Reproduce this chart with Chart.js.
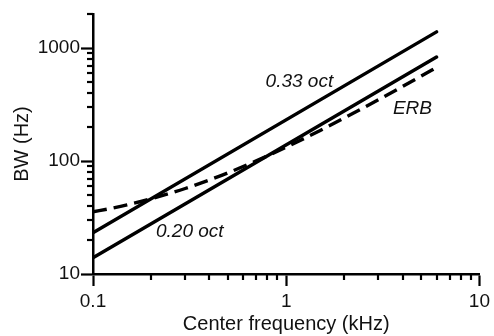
<!DOCTYPE html>
<html>
<head>
<meta charset="utf-8">
<script src="https://cdn.jsdelivr.net/npm/chart.js@4.4.1/dist/chart.umd.min.js"></script>
<style>
html, body { margin: 0; padding: 0; background: #fff; }
</style>
</head>
<body>
<canvas id="bwChart" width="494" height="336"></canvas>
<script>
// center frequency (kHz) vs bandwidth (Hz)
const octFreq = [0.1, 6];
const oct033 = [23.2, 1390];
const oct020 = [13.9, 832];

const erbFreq = [0.1, 0.125, 0.15, 0.2, 0.25, 0.3, 0.4, 0.5, 0.7, 1, 1.5, 2, 3, 4, 5, 6];
const erbBW = [35.5, 38.2, 40.9, 46.3, 51.7, 57.1, 67.9, 78.7, 100.3, 132.6, 186.6, 240.6, 348.5, 456.5, 564.4, 672.4];

// axis ticks; only the decades get a label and a long tick
const xTicks = [0.1, 0.2, 0.3, 0.4, 0.5, 0.6, 0.7, 0.8, 0.9, 1, 2, 3, 4, 5, 6, 7, 8, 9, 10];
const xLabels = [0.1, 1, 10];
const yTicks = [10, 20, 30, 40, 50, 60, 70, 80, 90, 100, 200, 300, 400, 500, 600, 700, 800, 900, 1000, 2000];
const yLabels = [10, 100, 1000];

const noteText = ['0.33 oct', 'ERB', '0.20 oct'];
const noteX = [1.17, 4.5, 0.317];
const noteY = [500, 292, 23.5];

const FONT = "'Liberation Sans', Arial, sans-serif";
const INK = '#111';

const toPts = (xs, ys) => xs.map((x, i) => ({ x: x, y: ys[i] }));

// short ticks between decades + italic curve names
const extras = {
  id: 'extras',
  afterDraw(chart) {
    const ctx = chart.ctx;
    const xs = chart.scales.x, ys = chart.scales.y;
    const area = chart.chartArea;
    ctx.save();
    ctx.strokeStyle = '#000';
    ctx.lineWidth = 2.2;
    xTicks.filter(v => !xLabels.includes(v)).forEach(v => {
      const px = Math.round(xs.getPixelForValue(v));
      ctx.beginPath();
      ctx.moveTo(px, area.bottom);
      ctx.lineTo(px, area.bottom + 6);
      ctx.stroke();
    });
    yTicks.filter(v => !yLabels.includes(v)).forEach(v => {
      const py = Math.round(ys.getPixelForValue(v));
      ctx.beginPath();
      ctx.moveTo(area.left, py);
      ctx.lineTo(area.left - 6, py);
      ctx.stroke();
    });
    ctx.fillStyle = INK;
    ctx.font = 'italic 19px ' + FONT;
    ctx.textAlign = 'center';
    ctx.textBaseline = 'middle';
    noteText.forEach((t, i) => {
      ctx.fillText(t, xs.getPixelForValue(noteX[i]), ys.getPixelForValue(noteY[i]));
    });
    ctx.restore();
  }
};

const tickColor = labels => c => (c.tick && labels.includes(c.tick.value)) ? '#000' : 'rgba(0,0,0,0)';

new Chart(document.getElementById('bwChart'), {
  type: 'scatter',
  data: {
    datasets: [
      { label: '0.33 oct', data: toPts(octFreq, oct033), showLine: true, borderColor: '#000',
        borderWidth: 3.4, borderCapStyle: 'round', pointRadius: 0 },
      { label: '0.20 oct', data: toPts(octFreq, oct020), showLine: true, borderColor: '#000',
        borderWidth: 3.4, borderCapStyle: 'round', pointRadius: 0 },
      { label: 'ERB', data: toPts(erbFreq, erbBW), showLine: true, borderColor: '#000',
        borderWidth: 3.4, borderDash: [14, 7], borderCapStyle: 'butt', pointRadius: 0,
        cubicInterpolationMode: 'monotone' }
    ]
  },
  options: {
    responsive: false,
    animation: false,
    devicePixelRatio: 1,
    layout: { padding: { top: 14, right: 12, left: 0, bottom: 0 } },
    plugins: { legend: { display: false }, tooltip: { enabled: false } },
    scales: {
      x: {
        type: 'logarithmic',
        min: 0.1,
        max: 10,
        afterBuildTicks: s => { s.ticks = xTicks.map(v => ({ value: v })); },
        afterFit: s => { s.height = 62; },
        border: { display: true, color: '#000', width: 2.5 },
        grid: { drawOnChartArea: false, drawTicks: true, tickLength: 12, tickWidth: 2.2, tickColor: tickColor(xLabels) },
        ticks: {
          autoSkip: false, maxRotation: 0, padding: 4, color: INK,
          font: { family: FONT, size: 19 },
          callback: v => xLabels.includes(v) ? String(v) : ''
        },
        title: { display: true, text: 'Center frequency (kHz)', color: INK, padding: { top: 0, bottom: 0 },
                 font: { family: FONT, size: 20 } }
      },
      y: {
        type: 'logarithmic',
        min: 10,
        max: 2000,
        afterBuildTicks: s => { s.ticks = yTicks.map(v => ({ value: v })); },
        afterFit: s => { s.width = 93; },
        border: { display: true, color: '#000', width: 2.5 },
        grid: { drawOnChartArea: false, drawTicks: true, tickLength: 12, tickWidth: 2.2, tickColor: tickColor(yLabels) },
        ticks: {
          autoSkip: false, padding: 1, color: INK,
          font: { family: FONT, size: 19 },
          callback: v => yLabels.includes(v) ? String(v) : ''
        },
        title: { display: true, text: 'BW (Hz)', color: INK, padding: { top: 10, bottom: 0 },
                 font: { family: FONT, size: 20 } }
      }
    }
  },
  plugins: [extras]
});
</script>
</body>
</html>
